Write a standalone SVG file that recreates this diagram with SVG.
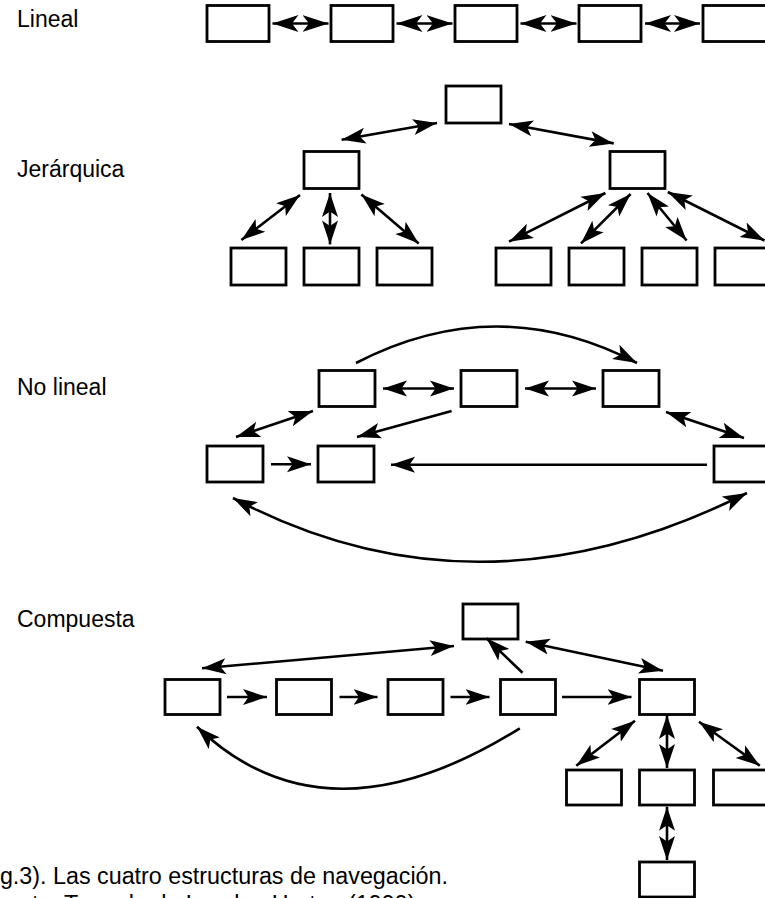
<svg xmlns="http://www.w3.org/2000/svg" width="765" height="898" viewBox="0 0 765 898">
  <style>
    .box { fill: #fff; stroke: #000; stroke-width: 2.8; }
    .ln { fill: none; stroke: #000; stroke-width: 2.6; }
    .both { marker-start: url(#ah); marker-end: url(#ah); }
    .end { marker-end: url(#ah); }
    .bothL { marker-start: url(#ahL); marker-end: url(#ahL); }
    .lbl { font-family: "Liberation Sans", Arial, sans-serif; font-size: 23px; fill: #000; }
  </style>
  <defs>
    <marker id="ah" markerUnits="userSpaceOnUse" markerWidth="26" markerHeight="18" viewBox="0 0 26 18" refX="24" refY="9" orient="auto-start-reverse">
      <path d="M24,9 L0,1 L5.5,9 L0,17 Z" fill="#000"/>
    </marker>
    <marker id="ahL" markerUnits="userSpaceOnUse" markerWidth="28" markerHeight="20" viewBox="0 0 28 20" refX="26" refY="10" orient="auto-start-reverse">
      <path d="M26,10 L0,1.5 L6.5,10 L0,18.5 Z" fill="#000"/>
    </marker>
  </defs>

  <rect width="765" height="898" fill="#fff"/>

  <!-- section labels -->
  <g id="labels" class="lbl">
    <text x="17" y="27">Lineal</text>
    <text x="17" y="177">Jerárquica</text>
    <text x="17" y="395">No lineal</text>
    <text x="17" y="627">Compuesta</text>
  </g>

  <!-- linear structure -->
  <g id="lin-1"><rect class="box" x="207" y="5.5" width="62" height="36"/></g>
  <g id="lin-2"><rect class="box" x="331" y="5.5" width="62" height="36"/></g>
  <g id="lin-3"><rect class="box" x="455" y="5.5" width="62" height="36"/></g>
  <g id="lin-4"><rect class="box" x="579" y="5.5" width="62" height="36"/></g>
  <g id="lin-5"><rect class="box" x="703" y="5.5" width="66" height="36"/></g>

  <!-- hierarchical structure -->
  <g id="hier-root"><rect class="box" x="446" y="86" width="55" height="37"/></g>
  <g id="hier-a"><rect class="box" x="304" y="151.5" width="55" height="37"/></g>
  <g id="hier-b"><rect class="box" x="610" y="151.5" width="55" height="37"/></g>
  <g id="hier-a1"><rect class="box" x="231" y="248" width="55" height="37"/></g>
  <g id="hier-a2"><rect class="box" x="304" y="248" width="55" height="37"/></g>
  <g id="hier-a3"><rect class="box" x="377" y="248" width="55" height="37"/></g>
  <g id="hier-b1"><rect class="box" x="496" y="248" width="55" height="37"/></g>
  <g id="hier-b2"><rect class="box" x="569" y="248" width="55" height="37"/></g>
  <g id="hier-b3"><rect class="box" x="642" y="248" width="55" height="37"/></g>
  <g id="hier-b4"><rect class="box" x="715" y="248" width="55" height="37"/></g>

  <!-- non-linear structure -->
  <g id="nl-a"><rect class="box" x="319" y="370.5" width="56" height="36"/></g>
  <g id="nl-b"><rect class="box" x="461" y="370.5" width="56" height="36"/></g>
  <g id="nl-c"><rect class="box" x="603" y="370.5" width="56" height="36"/></g>
  <g id="nl-d"><rect class="box" x="207" y="446" width="56" height="36"/></g>
  <g id="nl-e"><rect class="box" x="318" y="446" width="56" height="36"/></g>
  <g id="nl-f"><rect class="box" x="714" y="446" width="56" height="36"/></g>

  <!-- composite structure -->
  <g id="cmp-root"><rect class="box" x="463" y="604" width="55" height="35"/></g>
  <g id="cmp-1"><rect class="box" x="165" y="679.5" width="55" height="35"/></g>
  <g id="cmp-2"><rect class="box" x="276.5" y="679.5" width="55" height="35"/></g>
  <g id="cmp-3"><rect class="box" x="388" y="679.5" width="55" height="35"/></g>
  <g id="cmp-4"><rect class="box" x="500.5" y="679.5" width="55" height="35"/></g>
  <g id="cmp-5"><rect class="box" x="639.5" y="679.5" width="55" height="35"/></g>
  <g id="cmp-5a"><rect class="box" x="566.5" y="770" width="55" height="35"/></g>
  <g id="cmp-5b"><rect class="box" x="639.5" y="770" width="55" height="35"/></g>
  <g id="cmp-5c"><rect class="box" x="713.5" y="770" width="55" height="35"/></g>
  <g id="cmp-5b1"><rect class="box" x="639.5" y="862" width="55" height="35"/></g>

  <g id="connectors">
    <!-- linear -->
    <path class="ln bothL" d="M272.5,23.5 H328.5"/>
    <path class="ln bothL" d="M396.5,23.5 H452.5"/>
    <path class="ln bothL" d="M520.5,23.5 H576.5"/>
    <path class="ln bothL" d="M645,23.5 H700"/>

    <!-- hierarchical -->
    <path class="ln both" d="M437,123 L341.6,139.7"/>
    <path class="ln both" d="M509,124 L613.7,143.4"/>
    <path class="ln both" d="M300,195 L241.4,240"/>
    <path class="ln both" d="M330,193 L330,244.4"/>
    <path class="ln both" d="M361.4,194.6 L418.7,243.4"/>
    <path class="ln both" d="M605.4,193 L509,241.7"/>
    <path class="ln both" d="M630.6,194 L581,243.4"/>
    <path class="ln both" d="M647.5,193 L686.6,240.5"/>
    <path class="ln both" d="M667.8,192 L764.5,240.5"/>

    <!-- non-linear -->
    <path class="ln both" d="M383,388.5 H454"/>
    <path class="ln both" d="M525,388.5 H596"/>
    <path class="ln end" d="M356,363 Q497,290 637,363"/>
    <path class="ln both" d="M313,411 L236,437"/>
    <path class="ln end" d="M451.6,411 L357,437"/>
    <path class="ln both" d="M666,412 L744,438"/>
    <path class="ln end" d="M271,464.3 H311"/>
    <path class="ln end" d="M707,464.7 H391"/>
    <path class="ln both" d="M233,498 Q478,628 747,493"/>

    <!-- composite -->
    <path class="ln both" d="M454,646 L202,668.3"/>
    <path class="ln end" d="M522.5,672.7 L486.5,638.3"/>
    <path class="ln both" d="M525.7,641.7 L663,670.7"/>
    <path class="ln end" d="M227,697 H267"/>
    <path class="ln end" d="M339.5,697 H377.5"/>
    <path class="ln end" d="M450.5,697 H489.5"/>
    <path class="ln end" d="M562,697 H631.5"/>
    <path class="ln end" d="M519.8,728.3 Q325,850 197,726.7"/>
    <path class="ln both" d="M635,720.7 L576.3,765.7"/>
    <path class="ln both" d="M667,715 V768"/>
    <path class="ln both" d="M699,721.7 L759.8,765.7"/>
    <path class="ln both" d="M667,806.7 V860"/>
  </g>

  <!-- caption -->
  <g id="caption" class="lbl">
    <text x="448" y="884" text-anchor="end" font-size="23.3">(Fig.3). Las cuatro estructuras de navegación.</text>
    <text x="-21" y="912" font-size="23.3">Fuente: Tomado de Lynch y Horton (1999)</text>
  </g>
</svg>
